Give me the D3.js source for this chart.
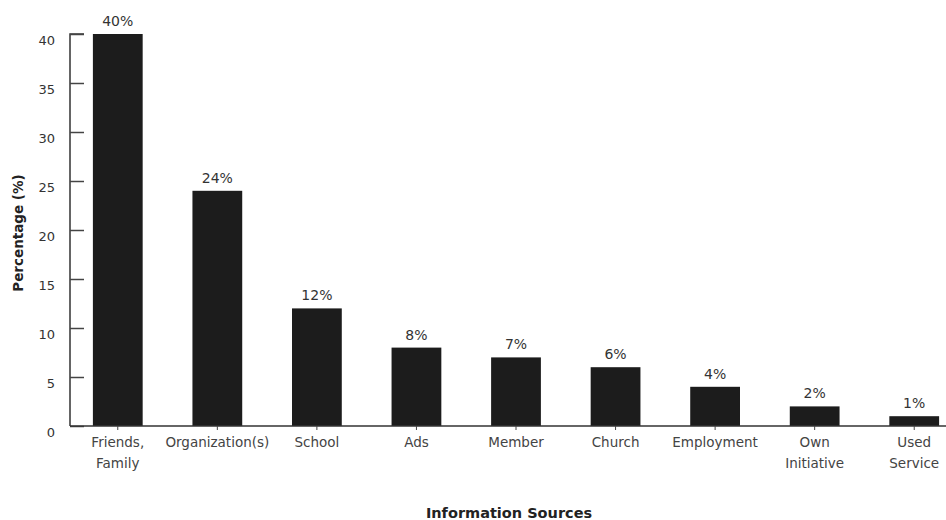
<!DOCTYPE html>
<html><head><meta charset="utf-8">
<script src="https://cdn.jsdelivr.net/npm/d3@7"></script>
<style>body{margin:0;background:#fff;} text{font-family:"DejaVu Sans",Arial,sans-serif;}</style>
</head><body>
<svg id="c" width="946" height="520"></svg>
<script>
const categories = [["Friends,","Family"],["Organization(s)"],["School"],["Ads"],["Member"],["Church"],["Employment"],["Own","Initiative"],["Used","Service"]];
const values = [40,24,12,8,7,6,4,2,1];
const yTicks = [0,5,10,15,20,25,30,35,40];
const yTitle = "Percentage (%)";
const xTitle = "Information Sources";

const svg = d3.select("#c");
const keys = categories.map((c,i)=>i);
const x = d3.scaleBand().domain(keys).range([68,964]).paddingInner(0.5).paddingOuter(0.25);
const y = d3.scaleLinear().domain([0,40]).range([426,34]);

// bars
svg.append("g").selectAll("rect").data(values).join("rect")
  .attr("x",(d,i)=>x(i)).attr("y",d=>y(d))
  .attr("width",x.bandwidth()).attr("height",d=>y(0)-y(d))
  .attr("fill","#1c1c1c");

// y axis
const ya = svg.append("g").attr("transform","translate(70,0)")
  .call(d3.axisRight(y).tickValues(yTicks).tickSize(14).tickFormat(""));
ya.select(".domain").attr("stroke","#333").attr("stroke-width",1.5).attr("d","M14,34H0V426");
ya.selectAll(".tick line").attr("stroke","#444").attr("stroke-width",1.5);
svg.append("g").selectAll("text").data(yTicks).join("text")
  .attr("x",55).attr("y",d=>y(d)+6).attr("dy","0.35em").attr("text-anchor","end")
  .attr("font-size",13).attr("fill","#333").text(d=>d);

// x axis
const xa = svg.append("g").attr("transform","translate(0,426)")
  .call(d3.axisBottom(x).tickSize(4).tickFormat(""));
xa.select(".domain").attr("stroke","#333").attr("stroke-width",1.5).attr("d","M70,0H946");
xa.selectAll(".tick line").attr("stroke","#444");

// x labels
const lab = svg.append("g").selectAll("text").data(categories).join("text")
  .attr("text-anchor","middle").attr("font-size",13.5).attr("fill","#444")
  .attr("transform",(d,i)=>`translate(${x(i)+x.bandwidth()/2},447)`);
lab.selectAll("tspan").data(d=>d).join("tspan")
  .attr("x",0).attr("dy",(d,j)=>j===0?0:21).text(d=>d);

// value labels
svg.append("g").selectAll("text").data(values).join("text")
  .attr("x",(d,i)=>x(i)+x.bandwidth()/2).attr("y",d=>y(d)-8)
  .attr("text-anchor","middle").attr("font-size",14).attr("fill","#333")
  .text(d=>d+"%");

// titles
svg.append("text").attr("transform","translate(23,233) rotate(-90)")
  .attr("text-anchor","middle").attr("font-size",13.5).attr("font-weight","bold").attr("fill","#222").text(yTitle);
svg.append("text").attr("x",509).attr("y",518).attr("text-anchor","middle")
  .attr("font-size",14.5).attr("font-weight","bold").attr("fill","#222").text(xTitle);
</script>
</body></html>
